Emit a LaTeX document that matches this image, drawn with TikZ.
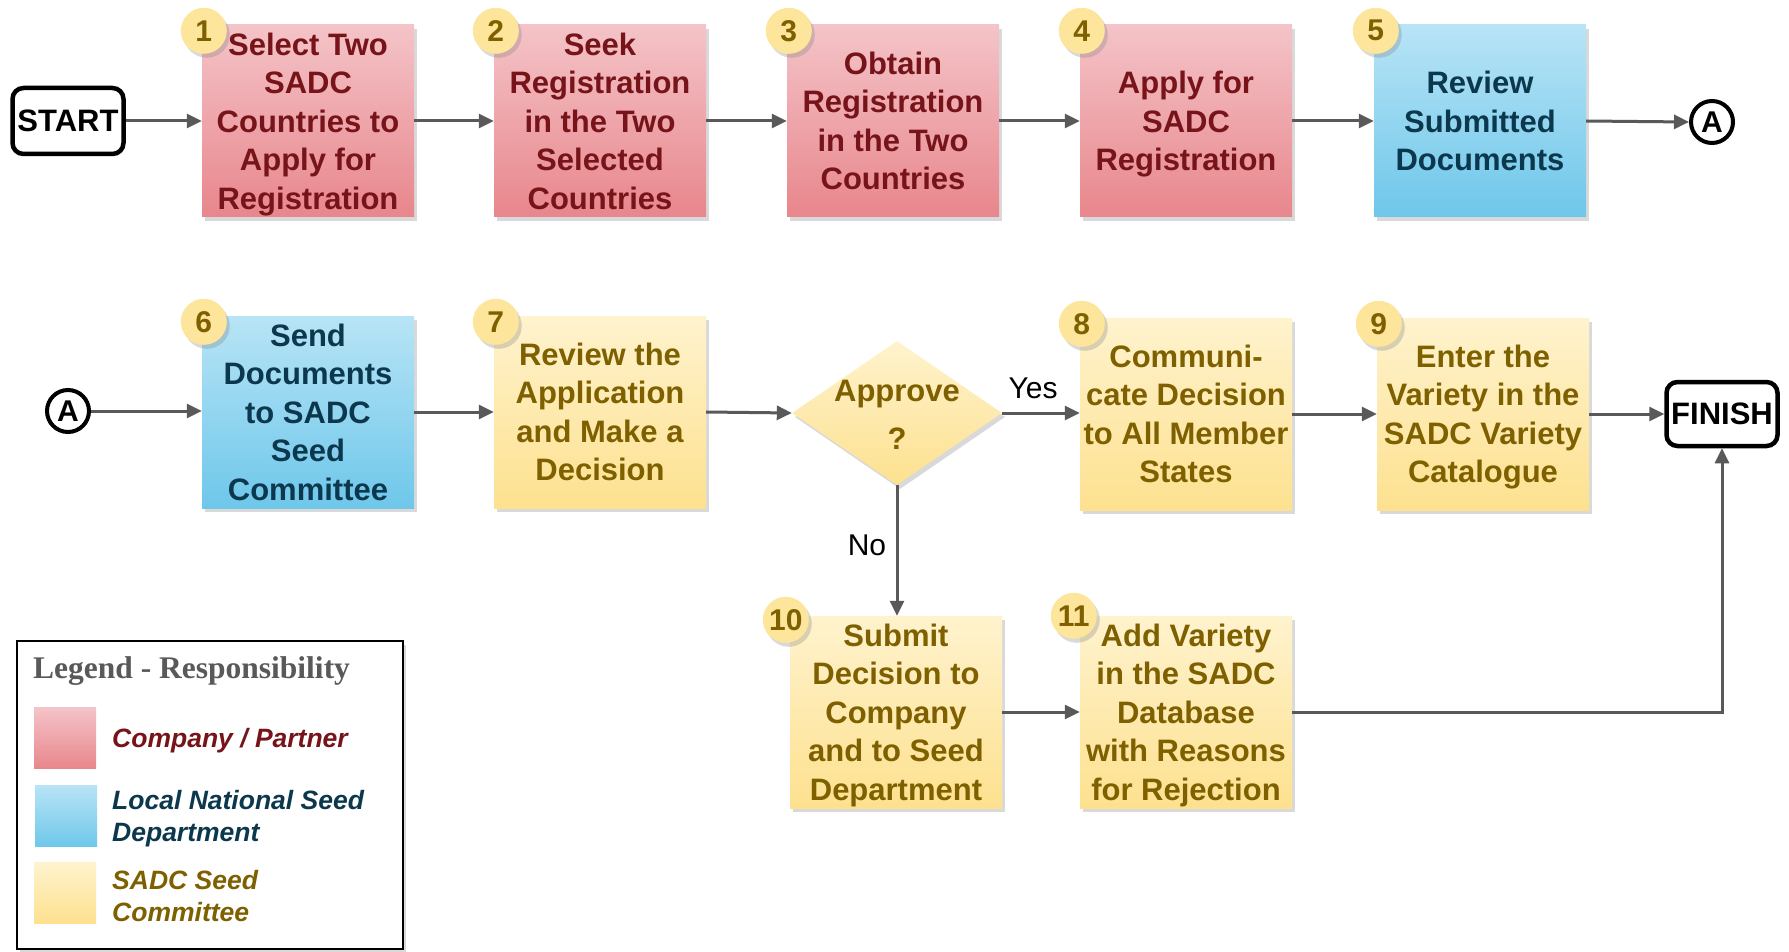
\documentclass[tikz,border=0pt]{standalone}
\usepackage{fontspec}
\setmainfont{Liberation Sans}
\newfontfamily\legendserif{Liberation Serif}
\usetikzlibrary{shapes.geometric,shadows,arrows.meta,calc}

\definecolor{redtop}{RGB}{244,196,200}
\definecolor{redbot}{RGB}{232,134,140}
\definecolor{redtext}{RGB}{118,20,26}
\definecolor{bluetop}{RGB}{184,228,246}
\definecolor{bluebot}{RGB}{110,199,234}
\definecolor{bluetext}{RGB}{12,56,78}
\definecolor{yeltop}{RGB}{255,243,206}
\definecolor{yelbot}{RGB}{253,225,143}
\definecolor{yeltext}{RGB}{127,96,0}
\definecolor{badgefill}{RGB}{253,230,155}
\definecolor{arrowgray}{RGB}{89,89,89}
\definecolor{legendgray}{RGB}{89,89,89}

\tikzset{
  softshadow/.style={drop shadow={opacity=0.3, shadow xshift=3pt, shadow yshift=-4pt}},
  stepbox/.style={rectangle, minimum width=212pt, minimum height=192pt, inner sep=0pt,
    text depth=0pt, align=center, font=\fontsize{31}{38.5}\selectfont\bfseries, softshadow},
  company/.style={stepbox, top color=redtop, bottom color=redbot, text=redtext},
  national/.style={stepbox, top color=bluetop, bottom color=bluebot, text=bluetext},
  committee/.style={stepbox, top color=yeltop, bottom color=yelbot, text=yeltext},
  badge/.style={circle, minimum size=46pt, inner sep=0pt, fill=badgefill, text=yeltext,
    font=\fontsize{30}{30}\selectfont\bfseries, softshadow},
  terminal/.style={rectangle, rounded corners=11pt, draw=black, line width=4.5pt, fill=white,
    minimum width=111pt, inner sep=0pt, font=\fontsize{31}{31}\selectfont\bfseries},
  connector/.style={circle, draw=black, line width=4pt, fill=white, minimum size=42pt,
    inner sep=0pt, font=\fontsize{30}{30}\selectfont\bfseries},
  flow/.style={draw=arrowgray, line width=3pt, -{Triangle[length=15pt,width=14pt]}},
  branch/.style={font=\fontsize{30}{30}\selectfont, text=black},
  swatch/.style={rectangle, minimum width=62pt, minimum height=61pt, inner sep=0pt},
  legendtext/.style={anchor=west, align=left, inner sep=0pt,
    font=\fontsize{26.5}{32}\selectfont\bfseries\itshape}
}

\begin{document}
\begin{tikzpicture}[x=1pt,y=-1pt]
\useasboundingbox (0,0) rectangle (1789,952);

% terminals and off-page connectors
\node[terminal, minimum height=66pt] (start) at (68,121) {START};
\node[terminal, minimum height=64pt] (finish) at (1722,414) {FINISH};
\node[connector] (aout) at (1712,122) {A};
\node[connector] (ain) at (68,411) {A};

% first row
\node[company] (b1) at (308,121) {Select Two\\SADC\\Countries to\\Apply for\\Registration};
\node[company] (b2) at (600,121) {Seek\\Registration\\in the Two\\Selected\\Countries};
\node[company] (b3) at (893,121) {Obtain\\Registration\\in the Two\\Countries};
\node[company] (b4) at (1186,121) {Apply for\\SADC\\Registration};
\node[national] (b5) at (1480,121) {Review\\Submitted\\Documents};

% second row
\node[national] (b6) at (308,412) {Send\\Documents\\to SADC\\Seed\\Committee};
\node[committee] (b7) at (600,412) {Review the\\Application\\and Make a\\Decision};
\node[diamond, minimum width=210pt, minimum height=144pt, inner sep=0pt,
      top color=yeltop, bottom color=yelbot, softshadow] (dec) at (897,413) {};
\node[align=center, text=yeltext, font=\fontsize{31}{48}\selectfont\bfseries] (dectext) at (897,415) {Approve\\?};
\node[committee] (b8) at (1186,414) {Communi-\\cate Decision\\to All Member\\States};
\node[committee] (b9) at (1483,414) {Enter the\\Variety in the\\SADC Variety\\Catalogue};

% third row
\node[committee] (b10) at (896,712) {Submit\\Decision to\\Company\\and to Seed\\Department};
\node[committee] (b11) at (1186,712) {Add Variety\\in the SADC\\Database\\with Reasons\\for Rejection};

% step numbers
\foreach \b/\n in {b1/1,b2/2,b3/3,b4/4,b5/5,b6/6,b7/7,b8/8,b9/9}
  \node[badge] (n\n) at ($(\b.north west)+(2,6)$) {\n};
\node[badge] (n10) at ($(b10.north west)+(-4,4)$) {10};
\node[badge] (n11) at ($(b11.north west)+(-6,0)$) {11};

% connectors
\draw[flow] (start) -- (b1);
\draw[flow] (b1) -- (b2);
\draw[flow] (b2) -- (b3);
\draw[flow] (b3) -- (b4);
\draw[flow] (b4) -- (b5);
\draw[flow] (b5.east) -- (aout.west);
\draw[flow] (ain.east) -- (ain.east -| b6.west);
\draw[flow] (b6.east) -- (b6.east -| b7.west);
\draw[flow] (b7.east) -- (dec.west);
\draw[flow] (dec.east) -- (dec.east -| b8.west);
\draw[flow] (b8.east) -- (b8.east -| b9.west);
\draw[flow] (b9.east) -- (b9.east -| finish.west);
\draw[flow] (dec.south) -- (dec.south |- b10.north);
\draw[flow] (b10.east) -- (b10.east -| b11.west);
\draw[flow] (b11.east) -| (finish.south);

\node[branch] (yes) at (1033,388) {Yes};
\node[branch] (no) at (867,545) {No};

% legend
\node[rectangle, draw=black, line width=2pt, fill=white, minimum width=386pt, minimum height=308pt,
      inner sep=0pt, softshadow] (legend) at (210,795) {};
\node[anchor=west, inner sep=0pt, text=legendgray, font=\legendserif\fontsize{31.5}{31.5}\selectfont\bfseries] (legtitle) at (33,671) {Legend - Responsibility};
\node[swatch, top color=redtop, bottom color=redbot] (swred) at (65,738) {};
\node[swatch, top color=bluetop, bottom color=bluebot] (swblue) at (66,816) {};
\node[swatch, top color=yeltop, bottom color=yelbot] (swyel) at (65,893) {};
\node[legendtext, text=redtext] (legred) at (112,741) {Company / Partner};
\node[legendtext, text=bluetext] (legblue) at (112,819) {Local National Seed\\Department};
\node[legendtext, text=yeltext] (legyel) at (112,896) {SADC Seed\\Committee};
\end{tikzpicture}
\end{document}
